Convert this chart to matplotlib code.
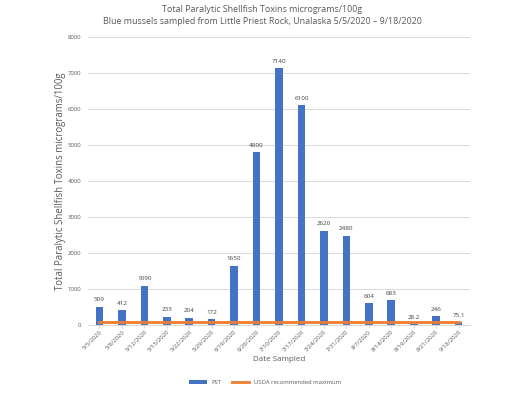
import matplotlib.pyplot as plt
import numpy as np

dates = ['5/5/2020', '5/8/2020', '5/12/2020', '5/15/2020', '5/22/2020', '5/29/2020',
         '6/19/2020', '6/26/2020', '7/10/2020', '7/17/2020', '7/24/2020', '7/31/2020',
         '8/7/2020', '8/14/2020', '8/19/2020', '8/21/2020', '9/18/2020']
pst = [509, 412, 1090, 233, 204, 172, 1650, 4800, 7140, 6100, 2620, 2480,
       604, 683, 28.2, 246, 75.1]
pst_labels = ['509', '412', '1090', '233', '204', '172', '1650', '4800', '7140', '6100',
              '2620', '2480', '604', '683', '28.2', '246', '75.1']
usda_max = [80] * len(dates)

plt.rcParams['font.family'] = ['Open Sans', 'DejaVu Sans']
grey = '#595959'

fig = plt.figure(figsize=(5.25, 3.94), dpi=100)
ax = fig.add_axes([0.168, 0.175, 0.727, 0.731])

x = np.arange(len(dates))
bars = ax.bar(x, pst, width=0.34, color='#4472C4', label='PST', zorder=2)
line, = ax.plot(x, usda_max, color='#ED7D31', linewidth=2, label='USDA recommended maximum', zorder=3)

for xi, v, lab in zip(x, pst, pst_labels):
    ax.text(xi, v + 120, lab, ha='center', va='bottom', fontsize=4.5, color='#404040')

ax.set_xlim(-0.5, len(dates) - 0.5)
ax.set_ylim(0, 8000)
ax.set_yticks(range(0, 8001, 1000))
ax.tick_params(axis='y', labelsize=4.3, colors=grey, length=0, pad=5)
ax.set_xticks(x)
ax.set_xticklabels(dates, rotation=45, ha='right', rotation_mode='anchor', fontsize=4.3, color=grey)
ax.tick_params(axis='x', length=2, color='#D9D9D9', pad=1)
ax.grid(axis='y', color='#D9D9D9', linewidth=0.7, zorder=0)
for s in ['top', 'right', 'left']:
    ax.spines[s].set_visible(False)
ax.spines['bottom'].set_color('#D9D9D9')

ax.set_xlabel('Date Sampled', fontsize=5.8, color=grey, labelpad=2)
ax.set_ylabel('Total Paralytic Shellfish Toxins micrograms/100g', fontsize=6.9, color=grey, labelpad=1)
fig.suptitle('Total Paralytic Shellfish Toxins micrograms/100g\n'
             'Blue mussels sampled from Little Priest Rock, Unalaska 5/5/2020 \u2013 9/18/2020',
             fontsize=6.4, color=grey, y=0.988, linespacing=1.45)

fig.legend([bars, line], ['PST', 'USDA recommended maximum'], loc='lower center',
           bbox_to_anchor=(0.505, 0.01), ncol=2, fontsize=4.2, frameon=False,
           handlelength=3, columnspacing=1.8, labelcolor=grey)

fig.savefig('out.png', dpi=100)
